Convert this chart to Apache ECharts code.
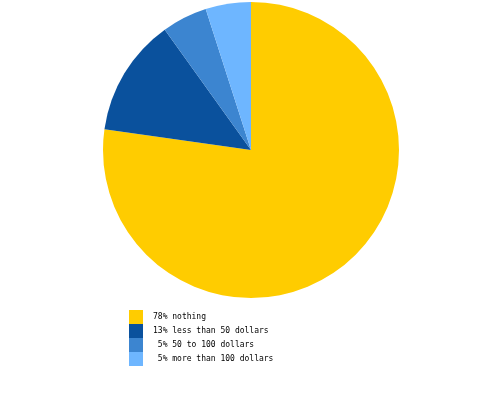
<!DOCTYPE html>
<html>
<head>
<meta charset="utf-8">
<script src="https://cdn.jsdelivr.net/npm/echarts@6/dist/echarts.min.js"></script>
<style>
html,body{margin:0;padding:0;background:#fff;}
#c{width:500px;height:400px;}
</style>
</head>
<body>
<div id="c"></div>
<script>
var categories = ['nothing', 'less than 50 dollars', '50 to 100 dollars', 'more than 100 dollars'];
var values = [78, 13, 5, 5];
var percentLabels = ['78%', '13%', ' 5%', ' 5%'];
var colors = ['#FFCC00', '#0A519D', '#3C85D0', '#6EB6FF'];

var names = categories.map(function (c, i) { return percentLabels[i] + ' ' + c; });
var data = values.map(function (v, i) {
  return { name: names[i], value: v, itemStyle: { color: colors[i] } };
});

var chart = echarts.init(document.getElementById('c'), null, { renderer: 'canvas' });
chart.setOption({
  animation: false,
  backgroundColor: '#ffffff',
  legend: {
    orient: 'vertical',
    left: 129,
    top: 310,
    padding: 0,
    itemGap: 0,
    itemWidth: 14,
    itemHeight: 14,
    icon: 'rect',
    selectedMode: false,
    data: names,
    textStyle: {
      fontFamily: 'DejaVu Sans Mono',
      fontSize: 8,
      color: '#000',
      padding: [0, 0, 4, 5]
    }
  },
  series: [{
    type: 'pie',
    center: [251, 150],
    radius: 148,
    startAngle: 90,
    clockwise: true,
    label: { show: false },
    labelLine: { show: false },
    emphasis: { disabled: true },
    itemStyle: { borderWidth: 0 },
    data: data
  }]
});
</script>
</body>
</html>
